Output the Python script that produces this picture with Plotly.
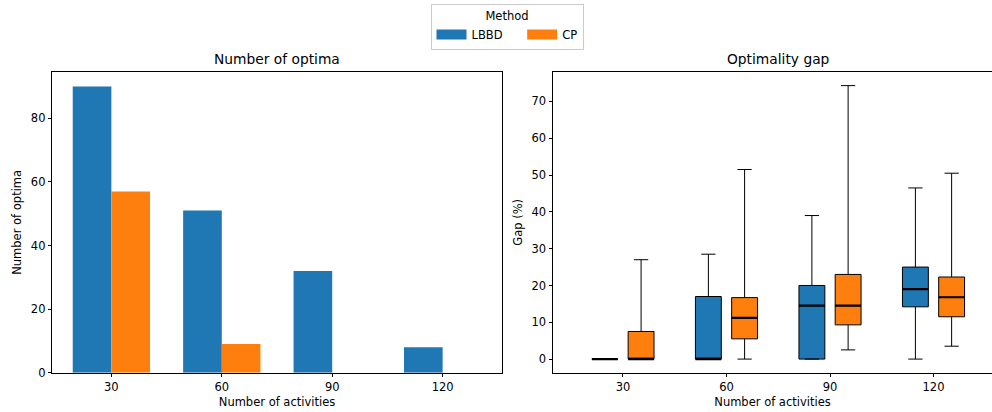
import plotly.graph_objects as go

# ---- data ----
categories = ["30", "60", "90", "120"]
methods = ["LBBD", "CP"]
colors = {"LBBD": "#1f77b4", "CP": "#ff7f0e"}

optima_lbbd = [90, 51, 32, 8]
optima_cp = [57, 9, 0, 0]

# box statistics for gap (%)
lbbd_low = [0, 0, 0, 0]
lbbd_q1 = [0, 0, 0, 14.2]
lbbd_med = [0, 0, 14.5, 19.0]
lbbd_q3 = [0, 17.0, 20.0, 25.0]
lbbd_high = [0, 28.5, 39.0, 46.5]

cp_low = [0, 0, 2.5, 3.5]
cp_q1 = [0, 5.5, 9.3, 11.5]
cp_med = [0, 11.2, 14.5, 16.8]
cp_q3 = [7.5, 16.7, 23.0, 22.3]
cp_high = [27.0, 51.5, 74.3, 50.5]

# ---- layout constants ----
W, H = 992, 412
FONT = "DejaVu Sans"
TICK = 11.5
TITLE = 13.8
bar_w = 0.35
box_w = 0.25
off_box = 0.175

idx = list(range(len(categories)))

fig = go.Figure()

# bars
fig.add_trace(go.Bar(x=[i - bar_w / 2 for i in idx], y=optima_lbbd, width=bar_w,
                     marker=dict(color=colors["LBBD"], line=dict(width=0)),
                     xaxis="x", yaxis="y", showlegend=False))
fig.add_trace(go.Bar(x=[i + bar_w / 2 for i in idx], y=optima_cp, width=bar_w,
                     marker=dict(color=colors["CP"], line=dict(width=0)),
                     xaxis="x", yaxis="y", showlegend=False))

# boxes
box_sets = [
    ("LBBD", -off_box, lbbd_low, lbbd_q1, lbbd_med, lbbd_q3, lbbd_high),
    ("CP", off_box, cp_low, cp_q1, cp_med, cp_q3, cp_high),
]
for name, off, lo, q1, med, q3, hi in box_sets:
    pos = [i + off for i in idx]
    fig.add_trace(go.Box(x=pos, lowerfence=lo, q1=q1, median=med, q3=q3, upperfence=hi,
                         width=box_w, whiskerwidth=0.55,
                         fillcolor=colors[name], line=dict(color="black", width=1),
                         boxpoints=False, xaxis="x2", yaxis="y2", showlegend=False))
    mx, my = [], []
    for p, m in zip(pos, med):
        mx += [p - box_w / 2, p + box_w / 2, None]
        my += [m, m, None]
    fig.add_trace(go.Scatter(x=mx, y=my, mode="lines", line=dict(color="black", width=2.2),
                             xaxis="x2", yaxis="y2", showlegend=False, hoverinfo="skip"))

# legend proxies
legend_names = {"LBBD": "LBBD    ", "CP": "CP"}
for name in methods:
    fig.add_trace(go.Scatter(x=[None], y=[None], mode="lines", name=legend_names[name],
                             line=dict(color=colors[name], width=10),
                             xaxis="x", yaxis="y"))

ydom = [(H - 372.7) / H, (H - 72) / H]
ax_common = dict(showline=True, linecolor="black", linewidth=1, ticks="outside",
                 ticklen=3.5, tickcolor="black", tickwidth=1, showgrid=False, zeroline=False,
                 automargin=False,
                 tickfont=dict(family=FONT, size=TICK, color="black"))

fig.update_layout(
    width=W, height=H, margin=dict(l=0, r=0, t=0, b=0, autoexpand=False),
    paper_bgcolor="white", plot_bgcolor="white",
    font=dict(family=FONT, size=TICK, color="black"),
    barmode="overlay", boxmode="overlay",
    xaxis=dict(domain=[52.3 / W, 501.7 / W], range=[-0.535, 3.535], tickvals=idx,
               ticktext=categories, mirror=True, anchor="y",
               title=dict(text="Number of activities", standoff=4,
                          font=dict(family=FONT, size=TICK)), **ax_common),
    yaxis=dict(domain=ydom, range=[0, 94.6], tickvals=[0, 20, 40, 60, 80], mirror=True,
               anchor="x", title=dict(text="Number of optima", standoff=6,
                                      font=dict(family=FONT, size=TICK)), **ax_common),
    xaxis2=dict(domain=[553 / W, 1.0], range=[-0.676, 3.565], tickvals=idx,
                ticktext=categories, mirror=True, anchor="y2",
                title=dict(text="Number of activities", standoff=4,
                           font=dict(family=FONT, size=TICK)), **ax_common),
    yaxis2=dict(domain=ydom, range=[-3.7, 78.0], tickvals=[0, 10, 20, 30, 40, 50, 60, 70],
                mirror=False, anchor="x2",
                title=dict(text="Gap (%)", standoff=6, font=dict(family=FONT, size=TICK)),
                **ax_common),
    legend=dict(orientation="h", x=507 / W, xanchor="center", y=1 - 4 / H, yanchor="top",
                bordercolor="#cccccc", borderwidth=1, bgcolor="white",
                font=dict(family=FONT, size=TICK),
                title=dict(text="Method", side="top center", font=dict(family=FONT, size=TICK)),
                itemwidth=30, tracegroupgap=0),
    annotations=[
        dict(text="Number of optima", x=(52.3 + 501.7) / 2 / W, y=ydom[1], xref="paper",
             yref="paper", xanchor="center", yanchor="bottom", yshift=3, showarrow=False,
             font=dict(family=FONT, size=TITLE, color="black")),
        dict(text="Optimality gap", x=(553 + 1003.4) / 2 / W, y=ydom[1], xref="paper",
             yref="paper", xanchor="center", yanchor="bottom", yshift=3, showarrow=False,
             font=dict(family=FONT, size=TITLE, color="black")),
    ],
)

fig.write_html("out.html", config={"displayModeBar": False},
               post_script="document.body.style.margin='0';document.body.style.overflow='hidden';")
